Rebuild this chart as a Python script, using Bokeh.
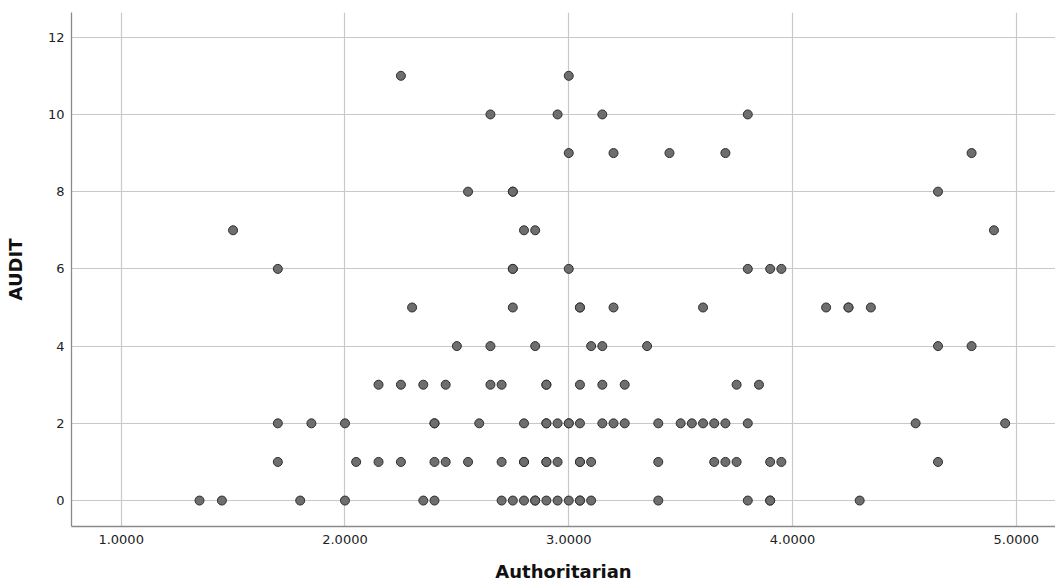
from bokeh.plotting import figure
from bokeh.models import FixedTicker, PrintfTickFormatter, Range1d
from bokeh.embed import file_html
from bokeh.resources import INLINE

# Authoritarian scores for each AUDIT value
audit_11 = [2.25, 3.00]
audit_10 = [2.65, 2.95, 3.15, 3.80]
audit_9 = [3.00, 3.20, 3.45, 3.70, 4.80]
audit_8 = [2.55, 2.75, 2.75, 4.65]
audit_7 = [1.50, 2.80, 2.85, 4.90]
audit_6 = [1.70, 2.75, 2.75, 3.00, 3.80, 3.90, 3.95]
audit_5 = [2.30, 2.75, 3.05, 3.05, 3.20, 3.60, 4.15, 4.25, 4.25, 4.35]
audit_4 = [2.50, 2.65, 2.85, 3.10, 3.15, 3.35, 4.65, 4.80]
audit_3 = [2.15, 2.25, 2.35, 2.45, 2.65, 2.70, 2.90, 2.90, 3.05, 3.15, 3.25, 3.75, 3.85]
audit_2 = [1.70, 1.85, 2.00, 2.40, 2.40, 2.60, 2.80, 2.90, 2.90, 2.95, 3.00, 3.00, 3.05,
           3.15, 3.20, 3.25, 3.40, 3.50, 3.55, 3.60, 3.65, 3.70, 3.80, 4.55, 4.95]
audit_1 = [1.70, 2.05, 2.15, 2.25, 2.40, 2.45, 2.55, 2.70, 2.80, 2.80, 2.90, 2.90, 2.95,
           3.05, 3.05, 3.10, 3.40, 3.65, 3.70, 3.75, 3.90, 3.95, 4.65]
audit_0 = [1.35, 1.45, 1.80, 2.00, 2.35, 2.40, 2.70, 2.75, 2.80, 2.85, 2.85, 2.90, 2.95,
           3.00, 3.05, 3.05, 3.10, 3.40, 3.80, 3.90, 3.90, 4.30]

rows = {11: audit_11, 10: audit_10, 9: audit_9, 8: audit_8, 7: audit_7, 6: audit_6,
        5: audit_5, 4: audit_4, 3: audit_3, 2: audit_2, 1: audit_1, 0: audit_0}

x_ticks = [1, 2, 3, 4, 5]
y_ticks = [0, 2, 4, 6, 8, 10, 12]

xs, ys = [], []
for audit_value, vals in rows.items():
    xs.extend(vals)
    ys.extend([audit_value] * len(vals))

p = figure(width=1055, height=584, output_backend="svg", toolbar_location=None,
           x_range=Range1d(0.778, 5.175), y_range=Range1d(-0.672, 12.64),
           min_border_left=71, min_border_right=0, min_border_top=12, min_border_bottom=57)

p.scatter(xs, ys, size=9, fill_color="#6e6e6e", line_color="#2e2e2e", line_width=1)

font = "DejaVu Sans"
for ax in (p.xaxis[0], p.yaxis[0]):
    ax.axis_line_color = "#8a8a8a"
    ax.axis_line_width = 1.3
    ax.major_tick_line_color = None
    ax.minor_tick_line_color = None
    ax.major_tick_out = 0
    ax.major_tick_in = 0
    ax.minor_tick_out = 0
    ax.minor_tick_in = 0
    ax.major_label_text_font = font
    ax.major_label_text_font_size = "13px"
    ax.major_label_text_color = "#222222"
    ax.axis_label_text_font = font
    ax.axis_label_text_font_style = "bold"
    ax.axis_label_text_font_size = "18px"
    ax.axis_label_text_color = "#111111"

p.xaxis.ticker = FixedTicker(ticks=x_ticks)
p.xaxis.formatter = PrintfTickFormatter(format="%.4f")
p.xaxis.axis_label = "Authoritarian"
p.xaxis.major_label_standoff = 8
p.xaxis.axis_label_standoff = 14

p.yaxis.ticker = FixedTicker(ticks=y_ticks)
p.yaxis.axis_label = "AUDIT"
p.yaxis.major_label_standoff = 7
p.yaxis.axis_label_standoff = 19

p.xgrid.ticker = FixedTicker(ticks=x_ticks)
p.ygrid.ticker = FixedTicker(ticks=y_ticks)
p.grid.grid_line_color = "#c8c8c8"
p.grid.grid_line_width = 1.2
p.outline_line_color = None
p.background_fill_color = "white"
p.border_fill_color = "white"

open("out.html", "w").write(file_html(p, INLINE))
